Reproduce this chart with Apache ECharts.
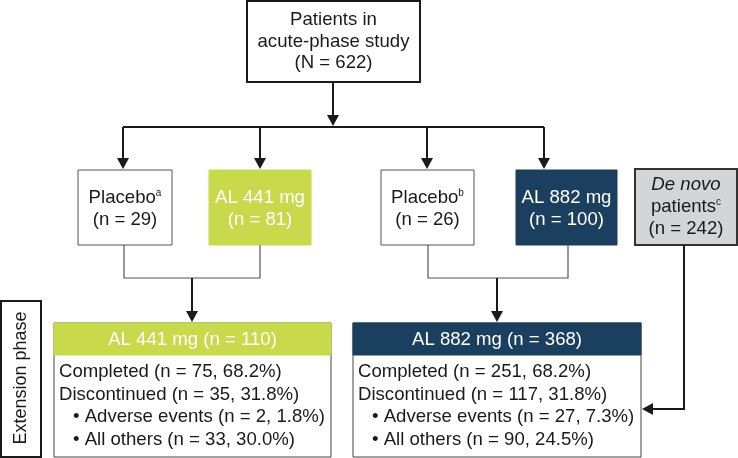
<!DOCTYPE html>
<html><head><meta charset="utf-8">
<script src="https://cdn.jsdelivr.net/npm/echarts@6/dist/echarts.min.js"></script>
<style>html,body{margin:0;padding:0;background:#fff}#c{width:738px;height:458px}</style>
</head><body><div id="c"></div>
<script>
// ---- data ----
var topLines = ['Patients in', 'acute-phase study', '(N = 622)'];
var armNames = ['Placebo', 'AL 441 mg', 'Placebo', 'AL 882 mg'];
var armSup = ['a', '', 'b', ''];
var armN = ['(n = 29)', '(n = 81)', '(n = 26)', '(n = 100)'];
var deNovoLines = ['De novo', 'patients', '(n = 242)'];
var deNovoSup = 'c';
var extTitles = ['AL 441 mg (n = 110)', 'AL 882 mg (n = 368)'];
var extLeft = ['Completed (n = 75, 68.2%)', 'Discontinued (n = 35, 31.8%)', '\u2022 Adverse events (n = 2, 1.8%)', '\u2022 All others (n = 33, 30.0%)'];
var extRight = ['Completed (n = 251, 68.2%)', 'Discontinued (n = 117, 31.8%)', '\u2022 Adverse events (n = 27, 7.3%)', '\u2022 All others (n = 90, 24.5%)'];
var phaseLabel = 'Extension phase';

// ---- style ----
var FONT = '"Liberation Sans", Arial, sans-serif';
var FS = 18.6;
var GREEN = '#c8d94c', NAVY = '#1b3f5f', GREY = '#d4d5d7', INK = '#1a1a1a';

var g = [];
function rect(x, y, w, h, fill, stroke, lw) {
  g.push({type: 'rect', shape: {x: x, y: y, width: w, height: h}, style: {fill: fill, stroke: stroke, lineWidth: lw}});
}
function line(pts, stroke, lw) {
  g.push({type: 'polyline', shape: {points: pts}, style: {fill: null, stroke: stroke, lineWidth: lw}});
}
function arrowDown(x, y) {
  g.push({type: 'polygon', shape: {points: [[x - 6, y - 11], [x + 6, y - 11], [x, y]]}, style: {fill: INK}});
}
function arrowLeft(x, y) {
  g.push({type: 'polygon', shape: {points: [[x + 11, y - 6], [x + 11, y + 6], [x, y]]}, style: {fill: INK}});
}
function text(str, x, y, color, align, extra) {
  var st = {text: str, x: x, y: y, fill: color, font: FS + 'px ' + FONT, align: align || 'center', verticalAlign: 'middle'};
  if (extra) for (var k in extra) st[k] = extra[k];
  g.push({type: 'text', style: st});
}
function supText(main, sup, x, y, color) {
  g.push({type: 'text', style: {text: '{t|' + main + '}{s|' + sup + '}', x: x, y: y, align: 'center', verticalAlign: 'middle',
    rich: {t: {fontSize: FS, fontFamily: FONT, fill: color, lineHeight: 20}, s: {fontSize: 10, fontFamily: FONT, fill: color, verticalAlign: 'top', lineHeight: 20}}}});
}

// top box
rect(247, 1, 173, 81, '#fff', INK, 2);
topLines.forEach(function (t, i) { text(t, 333.5, 20 + i * 21.5, INK); });
line([[333, 82], [333, 116]], INK, 2);
arrowDown(333, 126);
line([[123, 127], [544, 127]], INK, 2);

// arm boxes
var armX = [[78, 172], [209, 311], [381, 474], [516, 617]];
var armFill = ['#fff', GREEN, '#fff', NAVY];
var armTxt = [INK, '#fff', INK, '#fff'];
var dropX = [123, 260, 427, 544];
dropX.forEach(function (x) { line([[x, 127], [x, 159]], INK, 2); arrowDown(x, 169); });
armX.forEach(function (b, i) {
  rect(b[0], 170, b[1] - b[0], 75, armFill[i], armFill[i] === '#fff' ? '#555' : armFill[i], 1);
  var cx = (b[0] + b[1]) / 2;
  if (armSup[i]) supText(armNames[i], armSup[i], cx, 198, armTxt[i]);
  else text(armNames[i], cx, 198, armTxt[i]);
  text(armN[i], cx, 220, armTxt[i]);
});

// de novo box
rect(635, 169, 102, 76, GREY, '#333', 2);
text(deNovoLines[0], 686, 185, INK, 'center', {font: 'italic ' + FS + 'px ' + FONT});
supText(deNovoLines[1], deNovoSup, 686, 207, INK);
text(deNovoLines[2], 686, 229, INK);

// connectors to extension boxes
line([[124, 245], [124, 278], [260, 278], [260, 245]], '#555', 1.2);
line([[192, 278], [192, 311]], INK, 2); arrowDown(192, 322);
line([[428, 245], [428, 278], [568, 278], [568, 245]], '#555', 1.2);
line([[497, 278], [497, 311]], INK, 2); arrowDown(497, 322);
line([[684, 245], [684, 409], [652, 409]], INK, 2); arrowLeft(642, 409);

// extension boxes
var extBox = [[54, 331, GREEN, extLeft], [353, 641, NAVY, extRight]];
extBox.forEach(function (b, i) {
  rect(b[0], 323, b[1] - b[0], 134, '#fff', '#444', 1);
  rect(b[0], 323, b[1] - b[0], 32, b[2], b[2], 1);
  text(extTitles[i], (b[0] + b[1]) / 2, 339.5, '#fff');
  b[3].forEach(function (t, j) {
    text(t, b[0] + (j >= 2 ? 19 : 5), 372 + j * 22.5, INK, 'left');
  });
});

// extension phase label
rect(1, 301, 40, 156, '#fff', INK, 2);
g.push({type: 'text', x: 21, y: 378, rotation: Math.PI / 2,
  style: {text: phaseLabel, x: 0, y: 0, fill: INK, font: '18px ' + FONT, align: 'center', verticalAlign: 'middle'}});

var chart = echarts.init(document.getElementById('c'));
chart.setOption({animation: false, graphic: {elements: g}});
</script>
</body></html>
